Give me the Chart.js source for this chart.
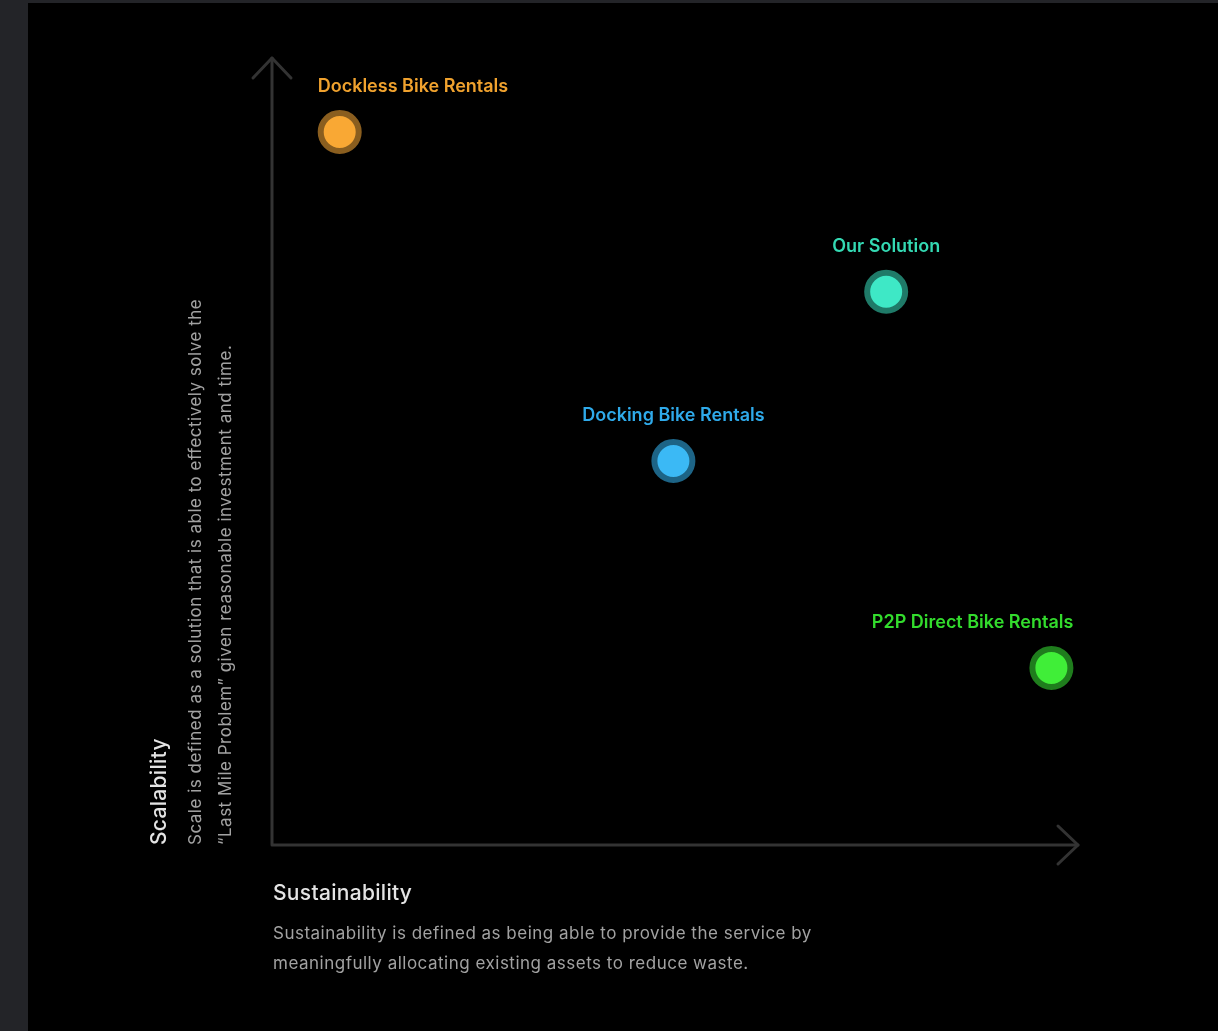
<!DOCTYPE html>
<html>
<head>
<meta charset="utf-8">
<script src="https://cdn.jsdelivr.net/npm/chart.js@4.4.0/dist/chart.umd.min.js"></script>
<style>
  html, body { margin: 0; padding: 0; }
  body { width: 1218px; height: 1031px; background: #232428; position: relative; overflow: hidden; font-family: Inter, "Noto Sans", sans-serif; }
  #panel { position: absolute; left: 28px; top: 3px; width: 1190px; height: 1028px; background: #000; }
  #panel canvas { position: absolute; left: 0; top: 0; }
  .xlab { position: absolute; left: 273px; top: 880px; color: #e4e4e4; }
  .xlab .t { font-size: 21px; letter-spacing: 0.3px; font-weight: 500; line-height: 26px; }
  .xlab .d { margin-top: 12px; font-size: 17px; letter-spacing: 0.5px; line-height: 30px; color: #a2a2a2; white-space: nowrap; }
  .ylab { position: absolute; left: 146px; bottom: 186px; height: 620px; color: #e4e4e4;
          writing-mode: vertical-rl; transform: rotate(180deg); }
  .ylab .t { font-size: 21px; letter-spacing: 0.3px; font-weight: 500; line-height: 26px; }
  .ylab .d { margin-right: 8px; font-size: 17px; letter-spacing: 0.5px; line-height: 30px; color: #a2a2a2; white-space: nowrap; }
</style>
</head>
<body>
<div id="panel"><canvas id="myChart" width="1190" height="1028"></canvas></div>
<div class="xlab">
  <div class="t">Sustainability</div>
  <div class="d">Sustainability is defined as being able to provide the service by<br>meaningfully allocating existing assets to reduce waste.</div>
</div>
<div class="ylab">
  <div class="t">Scalability</div>
  <div class="d">Scale is defined as a solution that is able to effectively solve the<br>“Last Mile Problem” given reasonable investment and time.</div>
</div>
<script>
// datos (escala 0-10 en ambos ejes)
const nombres = ["Dockless Bike Rentals", "Our Solution", "Docking Bike Rentals", "P2P Direct Bike Rentals"];
const sostenibilidad = [0.84, 7.62, 4.98, 9.67];
const escalabilidad = [9.06, 7.03, 4.88, 2.25];

const colores = ["#f9a834", "#3ee8c6", "#3bb9f5", "#40ee38"];
const bordes = ["#8a5e1f", "#1f7a68", "#1d6486", "#1f7d1d"];
const coloresTexto = ["#f0a22e", "#34d9b3", "#2faaea", "#33dc2d"];
const alineacion = ["left", "center", "center", "right"];

const puntos = sostenibilidad.map((x, i) => ({ x: x, y: escalabilidad[i] }));

const etiquetas = {
  id: "etiquetas",
  afterDatasetsDraw(chart) {
    const ctx = chart.ctx;
    const meta = chart.getDatasetMeta(0);
    ctx.save();
    ctx.font = "600 18px Inter, 'Noto Sans', sans-serif";
    ctx.textBaseline = "middle";
    meta.data.forEach((p, i) => {
      ctx.fillStyle = coloresTexto[i];
      let x = p.x;
      if (alineacion[i] == "left") {
        ctx.textAlign = "left";
        x = p.x - 22;
      } else if (alineacion[i] == "right") {
        ctx.textAlign = "right";
        x = p.x + 22;
      } else {
        ctx.textAlign = "center";
      }
      ctx.fillText(nombres[i], x, p.y - 45);
    });
    ctx.restore();
  }
};

const ejes = {
  id: "ejes",
  beforeDatasetsDraw(chart) {
    const ctx = chart.ctx;
    const a = chart.chartArea;
    ctx.save();
    ctx.strokeStyle = "#333333";
    ctx.lineWidth = 3;
    ctx.lineCap = "round";
    ctx.lineJoin = "round";
    ctx.beginPath();
    ctx.moveTo(a.left, a.top);
    ctx.lineTo(a.left, a.bottom);
    ctx.lineTo(a.right, a.bottom);
    ctx.stroke();
    // flechas
    ctx.beginPath();
    ctx.moveTo(a.left - 19, a.top + 20);
    ctx.lineTo(a.left, a.top);
    ctx.lineTo(a.left + 19, a.top + 20);
    ctx.moveTo(a.right - 20, a.bottom - 19);
    ctx.lineTo(a.right, a.bottom);
    ctx.lineTo(a.right - 20, a.bottom + 19);
    ctx.stroke();
    ctx.restore();
  }
};

const config = {
  type: "scatter",
  data: {
    datasets: [{
      label: "Soluciones",
      data: puntos,
      backgroundColor: colores,
      borderColor: bordes,
      borderWidth: 6,
      pointRadius: 19,
      pointHoverRadius: 19
    }]
  },
  options: {
    responsive: false,
    animation: false,
    layout: { padding: { left: 244, top: 55, right: 140, bottom: 186 } },
    plugins: { legend: { display: false }, tooltip: { enabled: false } },
    scales: {
      x: { display: false, min: 0, max: 10 },
      y: { display: false, min: 0, max: 10 }
    }
  },
  plugins: [ejes, etiquetas]
};

const myChart = document.getElementById("myChart");
const grafico = new Chart(myChart, config);
</script>
</body>
</html>
